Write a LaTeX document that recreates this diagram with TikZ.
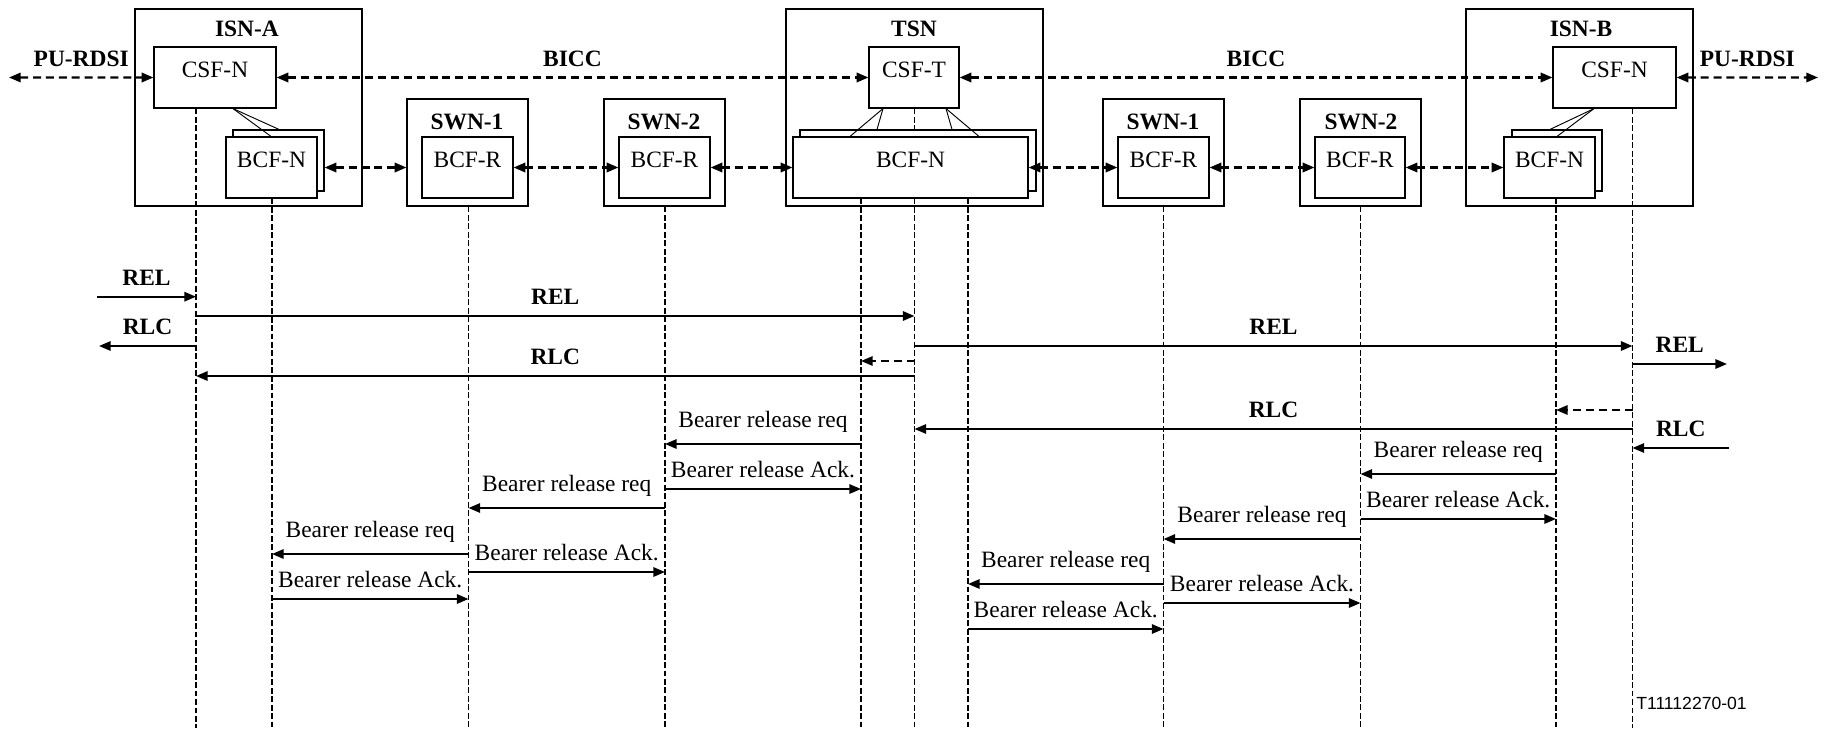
\documentclass[tikz,border=0pt]{standalone}
\usepackage{fontspec}
\setmainfont{Liberation Serif}
\newfontfamily\figsans{Liberation Sans}
\usetikzlibrary{arrows.meta, fit}

\begin{document}
\begin{tikzpicture}[x=0.015cm, y=-0.015cm, >={Triangle[length=5pt, width=4pt]},
    box/.style={draw, line width=0.5pt, fill=white, inner sep=0pt},
    head/.style={font=\bfseries},
    life/.style={line width=0.5pt, dash pattern=on 2.5pt off 1.1pt},
    msg/.style={line width=0.9pt, ->},
    dashlink/.style={line width=0.9pt, dash pattern=on 3.4pt off 2.1pt, <->},
    dashmsg/.style={line width=0.9pt, dash pattern=on 3.4pt off 2.1pt, ->},
    tag/.style={midway, above=1pt},
    btag/.style={midway, above=1pt, font=\bfseries}]
    \useasboundingbox (0,0) rectangle (1829,728);

    % Define the outer boxes
    \node[box, fit={(135,9) (362,206)}] (isnA) {};
    \node[box, fit={(407,99) (528,206)}] (swn1) {};
    \node[box, fit={(604,99) (725,206)}] (swn2) {};
    \node[box, fit={(786,9) (1043,206)}] (tsn) {};
    \node[box, fit={(1103,99) (1224,206)}] (swn3) {};
    \node[box, fit={(1300,99) (1421,206)}] (swn4) {};
    \node[box, fit={(1466,9) (1693,206)}] (isnB) {};

    % Node titles
    \node[head] (isnAname) at (247,29) {ISN-A};
    \node[head] (tsnname) at (914,29) {TSN};
    \node[head] (isnBname) at (1581,29) {ISN-B};
    \node[head] (swn1name) at (467,122) {SWN-1};
    \node[head] (swn2name) at (664,122) {SWN-2};
    \node[head] (swn3name) at (1163,122) {SWN-1};
    \node[head] (swn4name) at (1361,122) {SWN-2};

    % Call and bearer functions
    \node[box, fit={(154,47) (276,108)}] (csfA) {CSF-N};
    \node[box, fit={(869,47) (959,108)}] (csfT) {CSF-T};
    \node[box, fit={(1553,47) (1676,108)}] (csfB) {CSF-N};
    \node[box, fit={(233,130) (324,191)}] (bcfAback) {};
    \node[box, fit={(226,137) (317,198)}] (bcfA) {BCF-N};
    \node[box, fit={(422,137) (513,198)}] (bcfr1) {BCF-R};
    \node[box, fit={(619,137) (710,198)}] (bcfr2) {BCF-R};
    \node[box, fit={(800,130) (1036,191)}] (bcfTback) {};
    \node[box, fit={(793,137) (1028,198)}] (bcfT) {BCF-N};
    \node[box, fit={(1118,137) (1209,198)}] (bcfr3) {BCF-R};
    \node[box, fit={(1315,137) (1405,198)}] (bcfr4) {BCF-R};
    \node[box, fit={(1512,130) (1602,191)}] (bcfBback) {};
    \node[box, fit={(1504,137) (1595,198)}] (bcfB) {BCF-N};

    % CSF to BCF links
    \draw[line width=0.4pt] (csfA.south -| 233,0) -- (bcfAback.north -| 279,0);
    \draw[line width=0.4pt] (csfA.south -| 233,0) -- (bcfA.north -| 271,0);
    \draw[line width=0.4pt] (csfT.south -| 883,0) -- (bcfT.north -| 850,0);
    \draw[line width=0.4pt] (csfT.south -| 883,0) -- (bcfTback.north -| 877,0);
    \draw[line width=0.4pt] (csfT.south -| 946,0) -- (bcfT.north -| 979,0);
    \draw[line width=0.4pt] (csfT.south -| 946,0) -- (bcfTback.north -| 952,0);
    \draw[line width=0.4pt] (csfB.south -| 1594,0) -- (bcfBback.north -| 1550,0);
    \draw[line width=0.4pt] (csfB.south -| 1594,0) -- (bcfB.north -| 1557,0);

    % Lifelines
    \coordinate (lA) at (196,728);
    \coordinate (lAb) at (272,728);
    \coordinate (l1) at (468.5,728);
    \coordinate (l2) at (665,728);
    \coordinate (lTl) at (861,728);
    \coordinate (lT) at (914.5,728);
    \coordinate (lTr) at (968,728);
    \coordinate (l3) at (1163.5,728);
    \coordinate (l4) at (1360.5,728);
    \coordinate (lBb) at (1556,728);
    \coordinate (lB) at (1632.5,728);
    \draw[life] (csfA.south -| lA) -- (lA);
    \draw[life] (bcfA.south -| lAb) -- (lAb);
    \draw[life] (swn1.south -| l1) -- (l1);
    \draw[life] (swn2.south -| l2) -- (l2);
    \draw[life] (bcfT.south -| lTl) -- (lTl);
    \draw[life] (csfT.south -| lT) -- (bcfTback.north -| lT);
    \draw[life] (bcfT.south -| lT) -- (lT);
    \draw[life] (bcfT.south -| lTr) -- (lTr);
    \draw[life] (swn3.south -| l3) -- (l3);
    \draw[life] (swn4.south -| l4) -- (l4);
    \draw[life] (bcfB.south -| lBb) -- (lBb);
    \draw[life] (csfB.south -| lB) -- (lB);

    % Signalling and bearer interfaces
    \coordinate (puA) at (9,77.5);
    \coordinate (puB) at (1818,77.5);
    \draw[dashlink] (puA) -- (csfA.west) node[btag] (puAname) {PU-RDSI};
    \draw[dashlink] (csfA.east) -- (csfT.west) node[btag] (bicc1) {BICC};
    \draw[dashlink] (csfT.east) -- (csfB.west) node[btag] (bicc2) {BICC};
    \draw[dashlink] (csfB.east) -- (puB) node[btag] (puBname) {PU-RDSI};
    \draw[dashlink] (bcfAback.east |- bcfA) -- (swn1.west |- bcfA);
    \draw[dashlink] (bcfr1) -- (bcfr2);
    \draw[dashlink] (bcfr2) -- (bcfT);
    \draw[dashlink] (bcfT) -- (bcfr3);
    \draw[dashlink] (bcfr3) -- (bcfr4);
    \draw[dashlink] (bcfr4) -- (bcfB);

    % Release messages
    \coordinate (relA) at (97,296.7);
    \coordinate (rlcA) at (99,346);
    \coordinate (relB) at (1727,364);
    \coordinate (rlcB) at (1729,448);
    \draw[msg] (relA) -- (lA |- relA) node[btag] (relAname) {REL};
    \draw[msg] (lA |- 0,316) -- (lT |- 0,316) node[btag] (rel1) {REL};
    \draw[msg] (lA |- rlcA) -- (rlcA) node[btag] (rlcAname) {RLC};
    \draw[dashmsg] (lT |- 0,361) -- (lTl |- 0,361);
    \draw[msg] (lT |- 0,376) -- (lA |- 0,376) node[btag] (rlc1) {RLC};
    \draw[msg] (lT |- 0,346) -- (lB |- 0,346) node[btag] (rel2) {REL};
    \draw[msg] (lB |- relB) -- (relB) node[btag] (relBname) {REL};
    \draw[dashmsg] (lB |- 0,410) -- (lBb |- 0,410);
    \draw[msg] (lB |- 0,429) -- (lT |- 0,429) node[btag] (rlc2) {RLC};
    \draw[msg] (rlcB) -- (lB |- rlcB) node[btag] (rlcBname) {RLC};

    % Bearer release
    \draw[msg] (lTl |- 0,444) -- (l2 |- 0,444) node[tag] (req1) {Bearer release req};
    \draw[msg] (lBb |- 0,474) -- (l4 |- 0,474) node[tag] (req2) {Bearer release req};
    \draw[msg] (l2 |- 0,489) -- (lTl |- 0,489) node[tag] (ack1) {Bearer release Ack.};
    \draw[msg] (l2 |- 0,508) -- (l1 |- 0,508) node[tag] (req3) {Bearer release req};
    \draw[msg] (l4 |- 0,519) -- (lBb |- 0,519) node[tag] (ack2) {Bearer release Ack.};
    \draw[msg] (l4 |- 0,539) -- (l3 |- 0,539) node[tag] (req4) {Bearer release req};
    \draw[msg] (l1 |- 0,554) -- (lAb |- 0,554) node[tag] (req5) {Bearer release req};
    \draw[msg] (l1 |- 0,572) -- (l2 |- 0,572) node[tag] (ack3) {Bearer release Ack.};
    \draw[msg] (l3 |- 0,584) -- (lTr |- 0,584) node[tag] (req6) {Bearer release req};
    \draw[msg] (lAb |- 0,599) -- (l1 |- 0,599) node[tag] (ack4) {Bearer release Ack.};
    \draw[msg] (l3 |- 0,603) -- (l4 |- 0,603) node[tag] (ack5) {Bearer release Ack.};
    \draw[msg] (lTr |- 0,629) -- (l3 |- 0,629) node[tag] (ack6) {Bearer release Ack.};

    \node[font=\figsans\fontsize{7.5}{9}\selectfont] (figid) at (1691.5,703) {T11112270-01};
\end{tikzpicture}
\end{document}
